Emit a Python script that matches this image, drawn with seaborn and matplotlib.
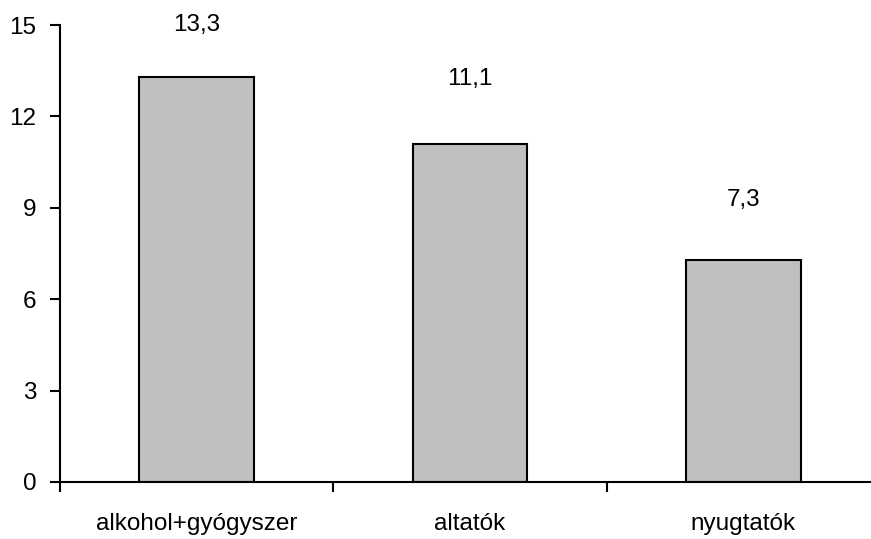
import pandas as pd
import matplotlib
matplotlib.use("Agg")
import matplotlib.pyplot as plt
import seaborn as sns

# data
categories = ["alkohol+gyógyszer", "altatók", "nyugtatók"]
values = [13.3, 11.1, 7.3]
value_labels = ["13,3", "11,1", "7,3"]
yticks = [0, 3, 6, 9, 12, 15]

df = pd.DataFrame({"cat": categories, "val": values})

sns.set_style("ticks")
plt.rcParams["font.family"] = ["Liberation Sans", "DejaVu Sans"]
plt.rcParams["text.color"] = "black"
plt.rcParams["xtick.color"] = "black"
plt.rcParams["ytick.color"] = "black"

fig = plt.figure(figsize=(8.71, 5.39), dpi=100)
ax = fig.add_axes([60 / 871, 57 / 539, 820 / 871, 457 / 539])

sns.barplot(data=df, x="cat", y="val", color="#c0c0c0", edgecolor="black",
            linewidth=1.5, width=0.42, saturation=1, ax=ax)

# value labels above the bars
offsets = [1.7, 2.13, 1.95]
for i, (v, lab) in enumerate(zip(values, value_labels)):
    ax.text(i, v + offsets[i], lab, ha="center", va="center", fontsize=17.5,
            color="black")

ax.set_ylim(0, 15)
ax.set_xlim(-0.5, 2.5)
ax.set_yticks(yticks)
ax.set_yticklabels([str(t) for t in yticks], fontsize=17.5)

# category boundaries as ticks, names in between
ax.set_xticks([-0.5, 0.5, 1.5, 2.5])
ax.set_xticklabels([])
ax.set_xticks(range(len(categories)), minor=True)
ax.set_xticklabels(categories, minor=True, fontsize=17.5)
ax.tick_params(axis="x", which="major", direction="out", length=7.5, width=1.5,
               color="black")
ax.tick_params(axis="x", which="minor", length=0, pad=22, labelcolor="black")
ax.tick_params(axis="y", direction="out", length=7, width=1.5, pad=10,
               color="black", labelcolor="black")

for s in ["top", "right"]:
    ax.spines[s].set_visible(False)
for s in ["left", "bottom"]:
    ax.spines[s].set_linewidth(1.5)
    ax.spines[s].set_color("black")

ax.set_xlabel("")
ax.set_ylabel("")

fig.savefig("out.png", dpi=100)
